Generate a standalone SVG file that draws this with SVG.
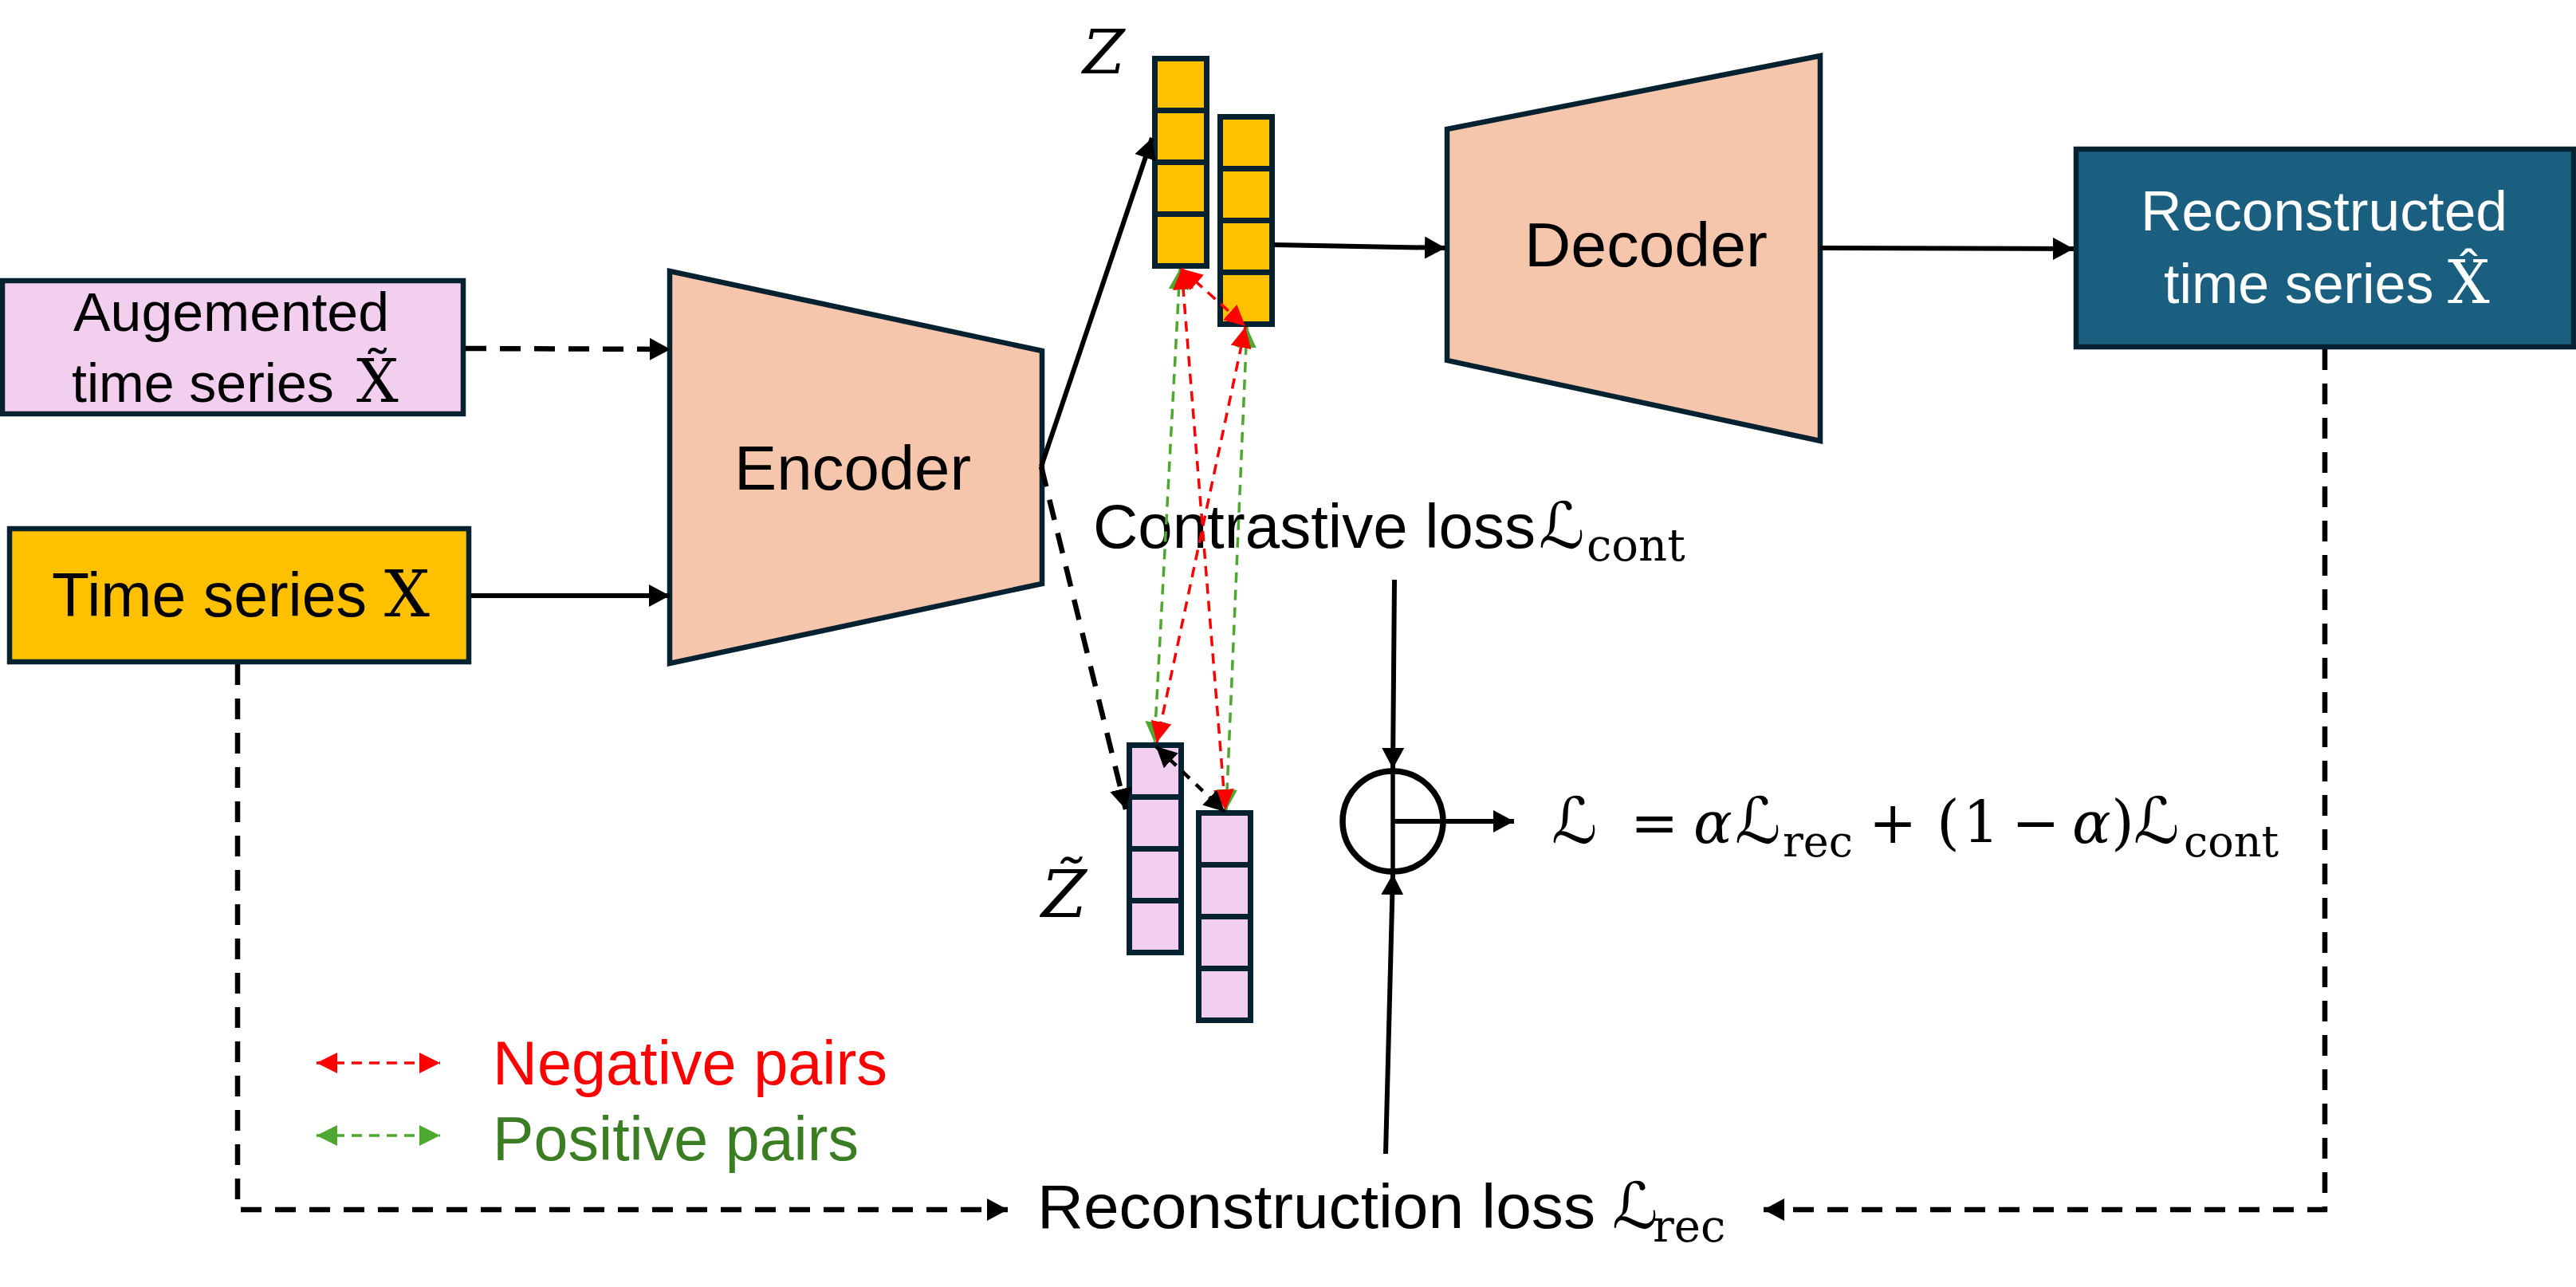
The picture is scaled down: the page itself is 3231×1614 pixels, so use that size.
<svg xmlns="http://www.w3.org/2000/svg" width="3231" height="1614" viewBox="0 0 3231 1614">
<style>
.box{stroke:#06212F;stroke-width:6.5}
.cell{stroke:#06212F;stroke-width:7}
.sans{font-family:"Liberation Sans",Arial,sans-serif;fill:#000}
.math{font-family:"DejaVu Serif","Liberation Serif","DejaVu Sans",serif}
.it{font-style:italic}
.sl{font-size:80px;font-style:italic}
.solid{stroke:#000;stroke-width:6;fill:none}
.dash{stroke:#000;stroke-width:6.5;fill:none;stroke-dasharray:26 17}
.dashs{stroke:#000;stroke-width:4.5;fill:none;stroke-dasharray:12 11}
.red{stroke:#FF0000;stroke-width:3.5;fill:none;stroke-dasharray:13 9}
.green{stroke:#4EA72E;stroke-width:3.5;fill:none;stroke-dasharray:13 9}
</style>
<defs>
<marker id="ab" markerUnits="userSpaceOnUse" markerWidth="26" markerHeight="28" refX="26" refY="14" orient="auto-start-reverse"><path d="M0,0 L26,14 L0,28 z" fill="#000"/></marker>
<marker id="abs" markerUnits="userSpaceOnUse" markerWidth="26" markerHeight="26" refX="26" refY="13" orient="auto-start-reverse"><path d="M0,0 L26,13 L0,26 z" fill="#000"/></marker>
<marker id="ar" markerUnits="userSpaceOnUse" markerWidth="26" markerHeight="26" refX="26" refY="13" orient="auto-start-reverse"><path d="M0,0 L26,13 L0,26 z" fill="#FF0000"/></marker>
<marker id="ag" markerUnits="userSpaceOnUse" markerWidth="26" markerHeight="26" refX="26" refY="13" orient="auto-start-reverse"><path d="M0,0 L26,13 L0,26 z" fill="#4EA72E"/></marker>
</defs>
<rect width="3231" height="1614" fill="#fff"/>

<g id="augmented">
<rect class="box" x="3" y="352" width="578" height="167" fill="#F2CEEF"/>
<text class="sans" x="92" y="415" font-size="68" textLength="396" lengthAdjust="spacingAndGlyphs">Augemented</text>
<text class="sans" y="504" font-size="68"><tspan x="90">time series</tspan><tspan x="447" class="math" font-size="74">X̃</tspan></text>
</g>

<g id="timeseries">
<rect class="box" x="12" y="663" width="576" height="167" fill="#FFC000"/>
<text class="sans" y="773" font-size="77"><tspan x="65">Time series</tspan><tspan x="482" class="math" font-size="80">X</tspan></text>
</g>

<g id="encoder">
<polygon class="box" points="840,340 1307,440 1307,732 840,832" fill="#F5C6AB"/>
<text class="sans" x="921" y="614" font-size="78" textLength="297" lengthAdjust="spacingAndGlyphs">Encoder</text>
</g>

<g id="decoder">
<polygon class="box" points="1815,162 2283,70 2283,553 1815,452" fill="#F5C6AB"/>
<text class="sans" x="1912" y="334" font-size="78" textLength="305" lengthAdjust="spacingAndGlyphs">Decoder</text>
</g>

<g id="reconstructed">
<rect class="box" x="2604" y="187" width="624" height="248" fill="#1A5E80"/>
<text class="sans" x="2685" y="289" font-size="70" style="fill:#fff" textLength="460" lengthAdjust="spacingAndGlyphs">Reconstructed</text>
<text class="sans" y="380" font-size="70" style="fill:#fff"><tspan x="2714">time series</tspan><tspan x="3070" class="math" font-size="74">X̂</tspan></text>
</g>

<g id="z">
<text class="math it" x="1358" y="92" font-size="76" font-family="Liberation Serif">Z</text>
<rect class="cell" x="1448.5" y="73.5" width="65" height="260" fill="#FFC000"/>
<path class="cell" d="M1448.5,138.5 H1513.5 M1448.5,203.5 H1513.5 M1448.5,268.5 H1513.5"/>
<rect class="cell" x="1530.5" y="146.5" width="65" height="260" fill="#FFC000"/>
<path class="cell" d="M1530.5,211.5 H1595.5 M1530.5,276.5 H1595.5 M1530.5,341.5 H1595.5"/>
</g>

<g id="ztilde">
<text class="math it" x="1306" y="1150" font-size="82" font-family="Liberation Serif">Z̃</text>
<rect class="cell" x="1416.5" y="934.5" width="65" height="260" fill="#F2CEEF"/>
<path class="cell" d="M1416.5,999.5 H1481.5 M1416.5,1064.5 H1481.5 M1416.5,1129.5 H1481.5"/>
<rect class="cell" x="1503.5" y="1019.5" width="65" height="260" fill="#F2CEEF"/>
<path class="cell" d="M1503.5,1084.5 H1568.5 M1503.5,1149.5 H1568.5 M1503.5,1214.5 H1568.5"/>
</g>

<g id="sum">
<circle cx="1747" cy="1030" r="63" fill="#fff" stroke="#000" stroke-width="7.5"/>
<path d="M1747,967 V1093" stroke="#000" stroke-width="5.5"/>
</g>

<g id="contrastive-label">
<text class="sans" y="687" font-size="78"><tspan x="1371" textLength="555" lengthAdjust="spacingAndGlyphs">Contrastive loss</tspan><tspan class="math sl" x="1930">ℒ</tspan><tspan class="math" x="1990" y="703" font-size="56">cont</tspan></text>
</g>

<g id="reconstruction-label">
<text class="sans" y="1540" font-size="77"><tspan x="1301" textLength="700" lengthAdjust="spacingAndGlyphs">Reconstruction loss</tspan><tspan class="math sl" x="2022">ℒ</tspan><tspan class="math" x="2073" y="1557" font-size="56">rec</tspan></text>
</g>

<g id="formula">
<text class="math" font-size="68" y="1057"><tspan class="sl" x="1946">ℒ</tspan><tspan x="2045" font-size="72">=</tspan><tspan class="it" x="2124" font-size="72">α</tspan><tspan class="sl" x="2176">ℒ</tspan><tspan x="2236" y="1074" font-size="54">rec</tspan><tspan x="2344" y="1057" font-size="72">+</tspan><tspan x="2429" font-size="74">(</tspan><tspan x="2462" font-size="72">1</tspan><tspan x="2523" font-size="72">−</tspan><tspan class="it" x="2599" font-size="72">α</tspan><tspan x="2648" font-size="74">)</tspan><tspan class="sl" x="2676">ℒ</tspan><tspan x="2739" y="1074" font-size="54">cont</tspan></text>
</g>

<g id="legend">
<path class="red" d="M397,1333 H552" marker-start="url(#ar)" marker-end="url(#ar)"/>
<path class="green" d="M397,1424 H552" marker-start="url(#ag)" marker-end="url(#ag)"/>
<text class="sans" x="618" y="1360" font-size="77" style="fill:#FF0000" textLength="495" lengthAdjust="spacingAndGlyphs">Negative pairs</text>
<text class="sans" x="618" y="1455" font-size="77" style="fill:#3A7D22" textLength="459" lengthAdjust="spacingAndGlyphs">Positive pairs</text>
</g>

<g id="connectors">
<path class="dash" d="M584,437 L841,438" marker-end="url(#ab)"/>
<path class="solid" d="M591,747 L840,747" marker-end="url(#ab)"/>
<path class="solid" d="M1306,585 L1445,173" marker-end="url(#ab)"/>
<path class="dash" d="M1306,585 L1412,1015" marker-end="url(#ab)"/>
<path class="solid" d="M1598,307 L1813,311" marker-end="url(#ab)"/>
<path class="solid" d="M2283,311 L2601,312" marker-end="url(#ab)"/>
<path class="solid" d="M1749,727 L1747,964" marker-end="url(#ab)"/>
<path class="solid" d="M1738,1447 L1747,1096" marker-end="url(#ab)"/>
<path class="solid" d="M1747,1030 L1899,1030" marker-end="url(#ab)"/>
<path class="dash" d="M298,833 V1517 H1264" marker-end="url(#ab)"/>
<path class="dash" d="M2916,438 V1517 H2212" marker-end="url(#ab)"/>
<path class="green" d="M1480,337 L1448,931" marker-start="url(#ag)" marker-end="url(#ag)"/>
<path class="green" d="M1564,410 L1538,1016" marker-start="url(#ag)" marker-end="url(#ag)"/>
<path class="red" d="M1482,337 L1537,1016" marker-start="url(#ar)" marker-end="url(#ar)"/>
<path class="red" d="M1562,410 L1451,931" marker-start="url(#ar)" marker-end="url(#ar)"/>
<path class="red" d="M1482,337 L1562,409" marker-start="url(#ar)" marker-end="url(#ar)"/>
<path class="dashs" d="M1450,936 L1536,1018" marker-start="url(#abs)" marker-end="url(#abs)"/>
</g>
</svg>
